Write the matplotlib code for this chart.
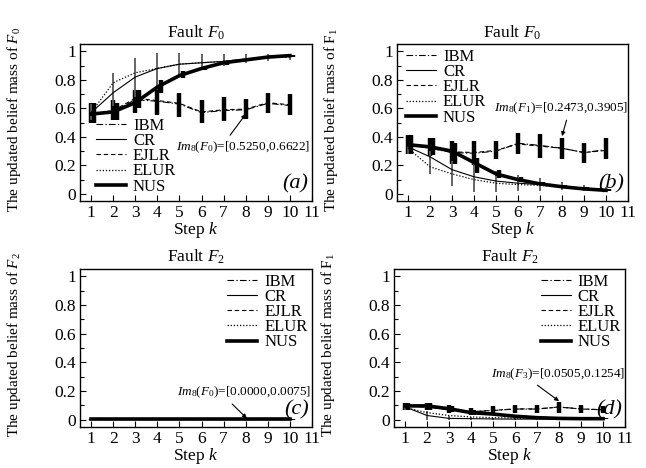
import numpy as np
import matplotlib
matplotlib.use('Agg')
import matplotlib.pyplot as plt

plt.rcParams['font.family'] = ['Liberation Serif', 'DejaVu Serif']
plt.rcParams['mathtext.fontset'] = 'custom'
plt.rcParams['mathtext.rm'] = 'Liberation Serif'
plt.rcParams['mathtext.it'] = 'Liberation Serif:italic'

steps = np.arange(1, 11)
methods = ['IBM', 'CR', 'EJLR', 'ELUR', 'NUS']

# (a) belief mass of F0
a_ibm  = [0.56, 0.58, 0.66, 0.65, 0.63, 0.57, 0.585, 0.59, 0.635, 0.62]
a_cr   = [0.57, 0.71, 0.82, 0.88, 0.91, 0.92, 0.93, 0.945, 0.96, 0.97]
a_ejlr = [0.56, 0.585, 0.67, 0.655, 0.635, 0.575, 0.59, 0.595, 0.64, 0.625]
a_elur = [0.57, 0.78, 0.85, 0.88, 0.91, 0.92, 0.93, 0.945, 0.955, 0.96]
a_nus  = [0.56, 0.575, 0.64, 0.75, 0.83, 0.88, 0.92, 0.94, 0.96, 0.97]
a_ibm_lo = [0.50, 0.52, 0.57, 0.55, 0.54, 0.50, 0.51, 0.525, 0.57, 0.55]
a_ibm_hi = [0.64, 0.66, 0.73, 0.74, 0.71, 0.66, 0.68, 0.6622, 0.71, 0.70]
a_nus_lo = [0.50, 0.52, 0.60, 0.71, 0.81, 0.87, 0.905, 0.93, 0.95, 0.96]
a_nus_hi = [0.64, 0.64, 0.73, 0.80, 0.86, 0.90, 0.93, 0.95, 0.965, 0.975]
a_cr_lo  = [0.52, 0.62, 0.68, 0.73, 0.82, 0.88, 0.90, 0.92, 0.93, 0.94]
a_cr_hi  = [0.63, 0.85, 0.95, 0.99, 0.99, 0.98, 0.98, 0.98, 0.98, 0.98]

# (b) belief mass of F1
b_ibm  = [0.345, 0.32, 0.29, 0.285, 0.30, 0.355, 0.34, 0.32, 0.29, 0.31]
b_cr   = [0.33, 0.26, 0.17, 0.12, 0.09, 0.075, 0.065, 0.05, 0.04, 0.03]
b_ejlr = [0.345, 0.325, 0.295, 0.29, 0.305, 0.35, 0.335, 0.32, 0.29, 0.305]
b_elur = [0.32, 0.19, 0.14, 0.10, 0.075, 0.065, 0.06, 0.05, 0.04, 0.03]
b_nus  = [0.345, 0.33, 0.30, 0.22, 0.14, 0.10, 0.07, 0.05, 0.035, 0.025]
b_ibm_lo = [0.28, 0.265, 0.21, 0.20, 0.245, 0.28, 0.25, 0.2473, 0.22, 0.245]
b_ibm_hi = [0.41, 0.39, 0.37, 0.37, 0.37, 0.43, 0.42, 0.3905, 0.36, 0.39]
b_nus_lo = [0.28, 0.27, 0.21, 0.15, 0.11, 0.08, 0.055, 0.04, 0.03, 0.02]
b_nus_hi = [0.41, 0.39, 0.36, 0.25, 0.17, 0.12, 0.085, 0.06, 0.045, 0.035]
b_cr_lo  = [0.28, 0.14, 0.055, 0.01, 0.01, 0.02, 0.02, 0.03, 0.02, 0.015]
b_cr_hi  = [0.36, 0.30, 0.23, 0.21, 0.16, 0.13, 0.11, 0.08, 0.06, 0.05]

# (c) belief mass of F2
c_ibm  = [0.004] * 10
c_cr   = [0.003] * 10
c_ejlr = [0.004] * 10
c_elur = [0.003] * 10
c_nus  = [0.004] * 10
c_ibm_lo = [0.0] * 10
c_ibm_hi = [0.0075] * 10
c_nus_lo = [0.0] * 10
c_nus_hi = [0.0075] * 10
c_cr_lo  = [0.0] * 10
c_cr_hi  = [0.0075] * 10

# (d) belief mass of F1 (fault F2)
d_ibm  = [0.095, 0.09, 0.07, 0.055, 0.065, 0.075, 0.075, 0.09, 0.075, 0.07]
d_cr   = [0.09, 0.03, 0.01, 0.008, 0.006, 0.005, 0.005, 0.005, 0.005, 0.005]
d_ejlr = [0.095, 0.09, 0.072, 0.057, 0.066, 0.076, 0.076, 0.088, 0.076, 0.07]
d_elur = [0.085, 0.05, 0.03, 0.02, 0.015, 0.012, 0.01, 0.008, 0.007, 0.006]
d_nus  = [0.097, 0.097, 0.077, 0.05, 0.04, 0.025, 0.015, 0.01, 0.008, 0.008]
d_ibm_lo = [0.07, 0.07, 0.05, 0.035, 0.04, 0.05, 0.05, 0.0505, 0.05, 0.045]
d_ibm_hi = [0.12, 0.12, 0.10, 0.08, 0.095, 0.105, 0.10, 0.1254, 0.10, 0.095]
d_nus_lo = [0.07, 0.07, 0.055, 0.035, 0.03, 0.02, 0.01, 0.008, 0.006, 0.006]
d_nus_hi = [0.12, 0.12, 0.095, 0.07, 0.05, 0.03, 0.02, 0.014, 0.01, 0.01]
d_cr_lo  = [0.07, 0.0, 0.0, 0.0, 0.0, 0.0, 0.0, 0.0, 0.0, 0.0]
d_cr_hi  = [0.11, 0.06, 0.03, 0.02, 0.015, 0.01, 0.01, 0.01, 0.01, 0.01]

styles = {
    'IBM':  dict(ls=(0, (6, 2, 1.2, 2)), lw=0.8),
    'CR':   dict(ls='-', lw=0.8),
    'EJLR': dict(ls=(0, (4, 2.5)), lw=0.8),
    'ELUR': dict(ls=(0, (1, 1.5)), lw=0.9),
    'NUS':  dict(ls='-', lw=2.6),
}

panels = [
    dict(pos=[0.124, 0.5705, 0.359, 0.335], title=r'Fault $F_0$',
         ylabel=r'The updated belief mass of $F_0$',
         series=[a_ibm, a_cr, a_ejlr, a_elur, a_nus],
         bars=[(a_ibm_lo, a_ibm_hi), (a_nus_lo, a_nus_hi), (a_cr_lo, a_cr_hi)],
         leg=dict(loc='upper left', bbox_to_anchor=(0.07, 0.53)),
         note=r'$Im_8(F_0)$=[0.5250,0.6622]', xy=(8, 0.56), xytext=(4.85, 0.33),
         relpos=(0.38, 1.0), letter='(a)'),
    dict(pos=[0.6146, 0.5705, 0.3576, 0.335], title=r'Fault $F_0$',
         ylabel=r'The updated belief mass of $\mathrm{F}_1$',
         series=[b_ibm, b_cr, b_ejlr, b_elur, b_nus],
         bars=[(b_ibm_lo, b_ibm_hi), (b_nus_lo, b_nus_hi), (b_cr_lo, b_cr_hi)],
         leg=dict(loc='upper left', bbox_to_anchor=(0.04, 0.97)),
         note=r'$Im_8(F_1)$=[0.2473,0.3905]', xy=(8, 0.405), xytext=(4.9, 0.60),
         relpos=(0.55, 0.0), letter='(b)'),
    dict(pos=[0.124, 0.0876, 0.359, 0.3376], title=r'Fault $F_2$',
         ylabel=r'The updated belief mass of $F_2$',
         series=[c_ibm, c_cr, c_ejlr, c_elur, c_nus],
         bars=[(c_ibm_lo, c_ibm_hi), (c_nus_lo, c_nus_hi), (c_cr_lo, c_cr_hi)],
         leg=dict(loc='upper right', bbox_to_anchor=(0.98, 0.97)),
         note=r'$Im_8(F_0)$=[0.0000,0.0075]', xy=(8.05, 0.01), xytext=(4.9, 0.19),
         relpos=(0.38, 0.0), letter='(c)'),
    dict(pos=[0.61, 0.0876, 0.3576, 0.3376], title=r'Fault $F_2$',
         ylabel=r'The updated belief mass of $\mathrm{F}_1$',
         series=[d_ibm, d_cr, d_ejlr, d_elur, d_nus],
         bars=[(d_ibm_lo, d_ibm_hi), (d_nus_lo, d_nus_hi), (d_cr_lo, d_cr_hi)],
         leg=dict(loc='upper right', bbox_to_anchor=(0.98, 0.97)),
         note=r'$Im_8(F_3)$=[0.0505,0.1254]', xy=(8, 0.13), xytext=(4.9, 0.32),
         relpos=(0.31, 0.0), letter='(d)'),
]

fig = plt.figure(figsize=(6.46, 4.68), dpi=100)

for p in panels:
    ax = fig.add_axes(p['pos'])
    # interval bars
    ibm_b, nus_b, cr_b = p['bars']
    ax.vlines(steps, ibm_b[0], ibm_b[1], colors='k', lw=3.2, zorder=2)
    ax.vlines(steps + 0.15, nus_b[0], nus_b[1], colors='k', lw=3.2, zorder=2)
    ax.vlines(steps, cr_b[0], cr_b[1], colors='0.35', lw=1.3, zorder=2)
    for name, vals in zip(methods, p['series']):
        ax.plot(steps, vals, color='k', label=name, zorder=3, **styles[name])

    ax.set_xlim(0.5, 11)
    ax.set_ylim(-0.05, 1.05)
    ax.set_xticks(range(1, 12))
    ax.set_yticks([0, 0.2, 0.4, 0.6, 0.8, 1])
    ax.set_yticklabels(['0', '0.2', '0.4', '0.6', '0.8', '1'])
    ax.set_yticks(np.arange(0.1, 1.0, 0.2), minor=True)
    ax.tick_params(direction='in', labelsize=12.5, length=4, width=0.8, pad=3)
    ax.tick_params(which='minor', direction='in', length=3, width=0.8)
    for s in ax.spines.values():
        s.set_linewidth(1.0)

    ax.set_title(p['title'], fontsize=12.5, pad=5)
    ax.set_xlabel(r'Step $k$', fontsize=12.5, labelpad=-1)
    ax.set_ylabel(p['ylabel'], fontsize=11)
    ax.yaxis.set_label_coords(-0.245, 0.52)

    ax.legend(frameon=False, fontsize=12, labelspacing=-0.05, handlelength=1.8,
              handletextpad=0.4, borderpad=0, borderaxespad=0, **p['leg'])

    ax.annotate(p['note'], xy=p['xy'], xytext=p['xytext'], fontsize=9.5,
                ha='left', va='center',
                arrowprops=dict(arrowstyle='-|>', color='k', lw=0.8,
                                mutation_scale=6, shrinkA=1, shrinkB=0,
                                relpos=p['relpos']))
    ax.text(0.985, 0.05, p['letter'], transform=ax.transAxes, ha='right',
            va='bottom', fontsize=16, style='italic')

fig.savefig('out.png', dpi=100)
